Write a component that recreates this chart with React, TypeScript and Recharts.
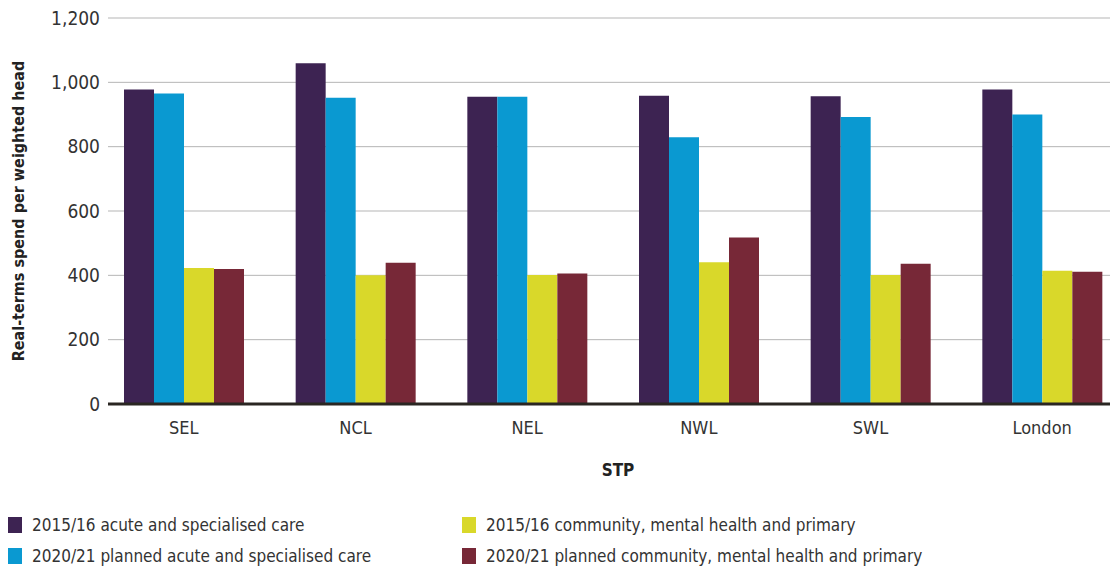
import React from 'react';
import { BarChart, Bar, XAxis, YAxis, CartesianGrid, Label } from 'recharts';

const categories = ['SEL', 'NCL', 'NEL', 'NWL', 'SWL', 'London'];
const acute1516 = [978, 1059, 955, 958, 957, 978];
const acute2021 = [965, 952, 955, 829, 892, 900];
const community1516 = [423, 400, 401, 441, 401, 414];
const community2021 = [420, 439, 406, 518, 436, 411];
const yTicks = [0, 200, 400, 600, 800, 1000, 1200];

const seriesNames = [
  '2015/16 acute and specialised care',
  '2020/21 planned acute and specialised care',
  '2015/16 community, mental health and primary',
  '2020/21 planned community, mental health and primary',
];
const colors = ['#3d2352', '#0a99d1', '#d9d82a', '#772837'];

const data = categories.map((c, i) => ({
  name: c,
  a: acute1516[i],
  b: acute2021[i],
  c: community1516[i],
  d: community2021[i],
}));

const FONT = '"Liberation Sans Narrow", "DejaVu Sans Condensed", "Open Sans", sans-serif';

const legendPos = [
  { left: 8, top: 515 },
  { left: 8, top: 546 },
  { left: 462, top: 515 },
  { left: 462, top: 546 },
];

export default function App() {
  return (
    <div style={{ position: 'absolute', left: 0, top: 0, width: 1110, height: 567, overflow: 'hidden', background: '#fff', fontFamily: FONT }}>
      <BarChart
        width={1140}
        height={567}
        data={data}
        margin={{ top: 18, right: 12, bottom: 91, left: 8 }}
        barCategoryGap={26}
        barGap={0}
      >
        <CartesianGrid vertical={false} stroke="#b5b5b5" strokeWidth={1} />
        <XAxis
          dataKey="name"
          height={72}
          padding={{ left: -10, right: 0 }}
          axisLine={{ stroke: '#2a2622', strokeWidth: 3 }}
          tickLine={false}
          tick={{ fill: '#333', fontSize: 18, fontFamily: FONT }}
          tickMargin={11}
        >
          <Label value="STP" position="insideBottom" offset={0} style={{ fill: '#222', fontSize: 17, fontWeight: 600, fontFamily: FONT }} />
        </XAxis>
        <YAxis
          width={100}
          domain={[0, 1200]}
          ticks={yTicks}
          axisLine={false}
          tickLine={false}
          tickFormatter={(v: number) => v.toLocaleString('en-US')}
          tick={{ fill: '#333', fontSize: 19, fontFamily: FONT }}
        >
          <Label
            value="Real-terms spend per weighted head"
            angle={-90}
            position="insideLeft"
            offset={10}
            textAnchor="middle"
            style={{ fill: '#222', fontSize: 16, fontWeight: 'bold', fontFamily: FONT, textAnchor: 'middle' }}
          />
        </YAxis>
        <Bar dataKey="a" fill={colors[0]} isAnimationActive={false} />
        <Bar dataKey="b" fill={colors[1]} isAnimationActive={false} />
        <Bar dataKey="c" fill={colors[2]} isAnimationActive={false} />
        <Bar dataKey="d" fill={colors[3]} isAnimationActive={false} />
      </BarChart>
      {seriesNames.map((n, i) => (
        <div key={n} style={{ position: 'absolute', left: legendPos[i].left, top: legendPos[i].top, display: 'flex', alignItems: 'center', fontSize: 17, color: '#333', whiteSpace: 'nowrap' }}>
          <span style={{ display: 'inline-block', width: 14, height: 16, background: colors[i], marginRight: 10 }} />
          <span>{n}</span>
        </div>
      ))}
    </div>
  );
}
